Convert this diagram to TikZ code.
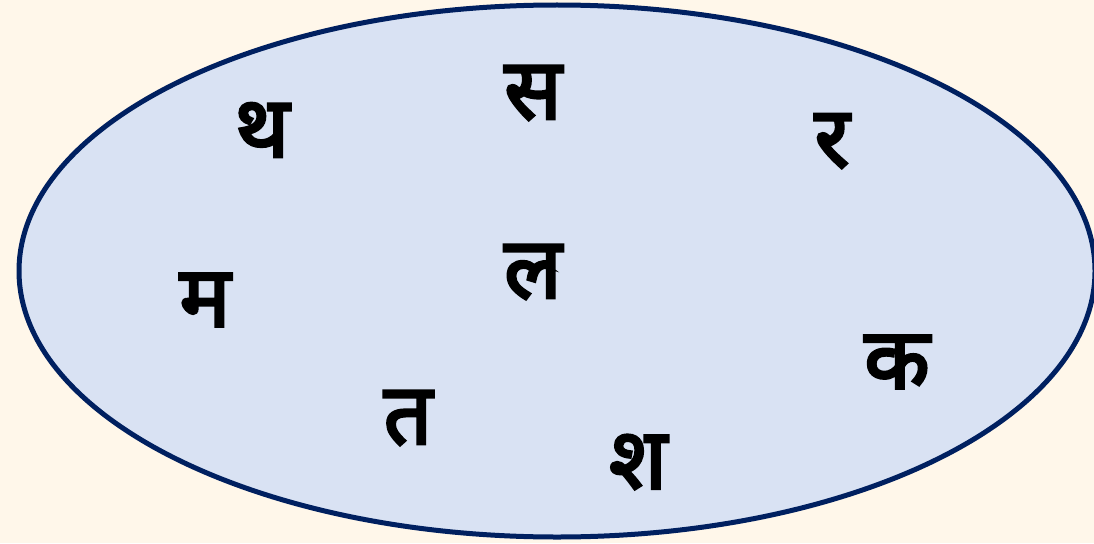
\documentclass[tikz,border=0pt]{standalone}
\usepackage{fontspec}
\newfontfamily\deva[Script=Devanagari,FakeBold=3.5]{Noto Sans}
\definecolor{bgc}{HTML}{FFF7EA}
\definecolor{ellfill}{HTML}{D9E2F3}
\definecolor{ellline}{HTML}{002060}
\begin{document}
\begin{tikzpicture}[x=1pt,y=-1pt,
  letter/.style={font=\deva\fontsize{85}{92}\selectfont, inner sep=0pt, text=black}]
\useasboundingbox (0,0) rectangle (1094,543);
\fill[bgc] (0,0) rectangle (1094,543);
\draw[ellline, fill=ellfill, line width=5pt] (557,271) ellipse [x radius=538, y radius=266];
\node[letter] (tha) at (262,130) {थ};
\node[letter] (sa) at (533,93) {स};
\node[letter] (ra) at (832,141) {र};
\node[letter] (la) at (533,272) {ल};
\node[letter] (ma) at (205,300) {म};
\node[letter] (ka) at (897,362) {क};
\node[letter] (ta) at (408,418) {त};
\node[letter] (sha) at (638,462) {श};
\end{tikzpicture}
\end{document}
